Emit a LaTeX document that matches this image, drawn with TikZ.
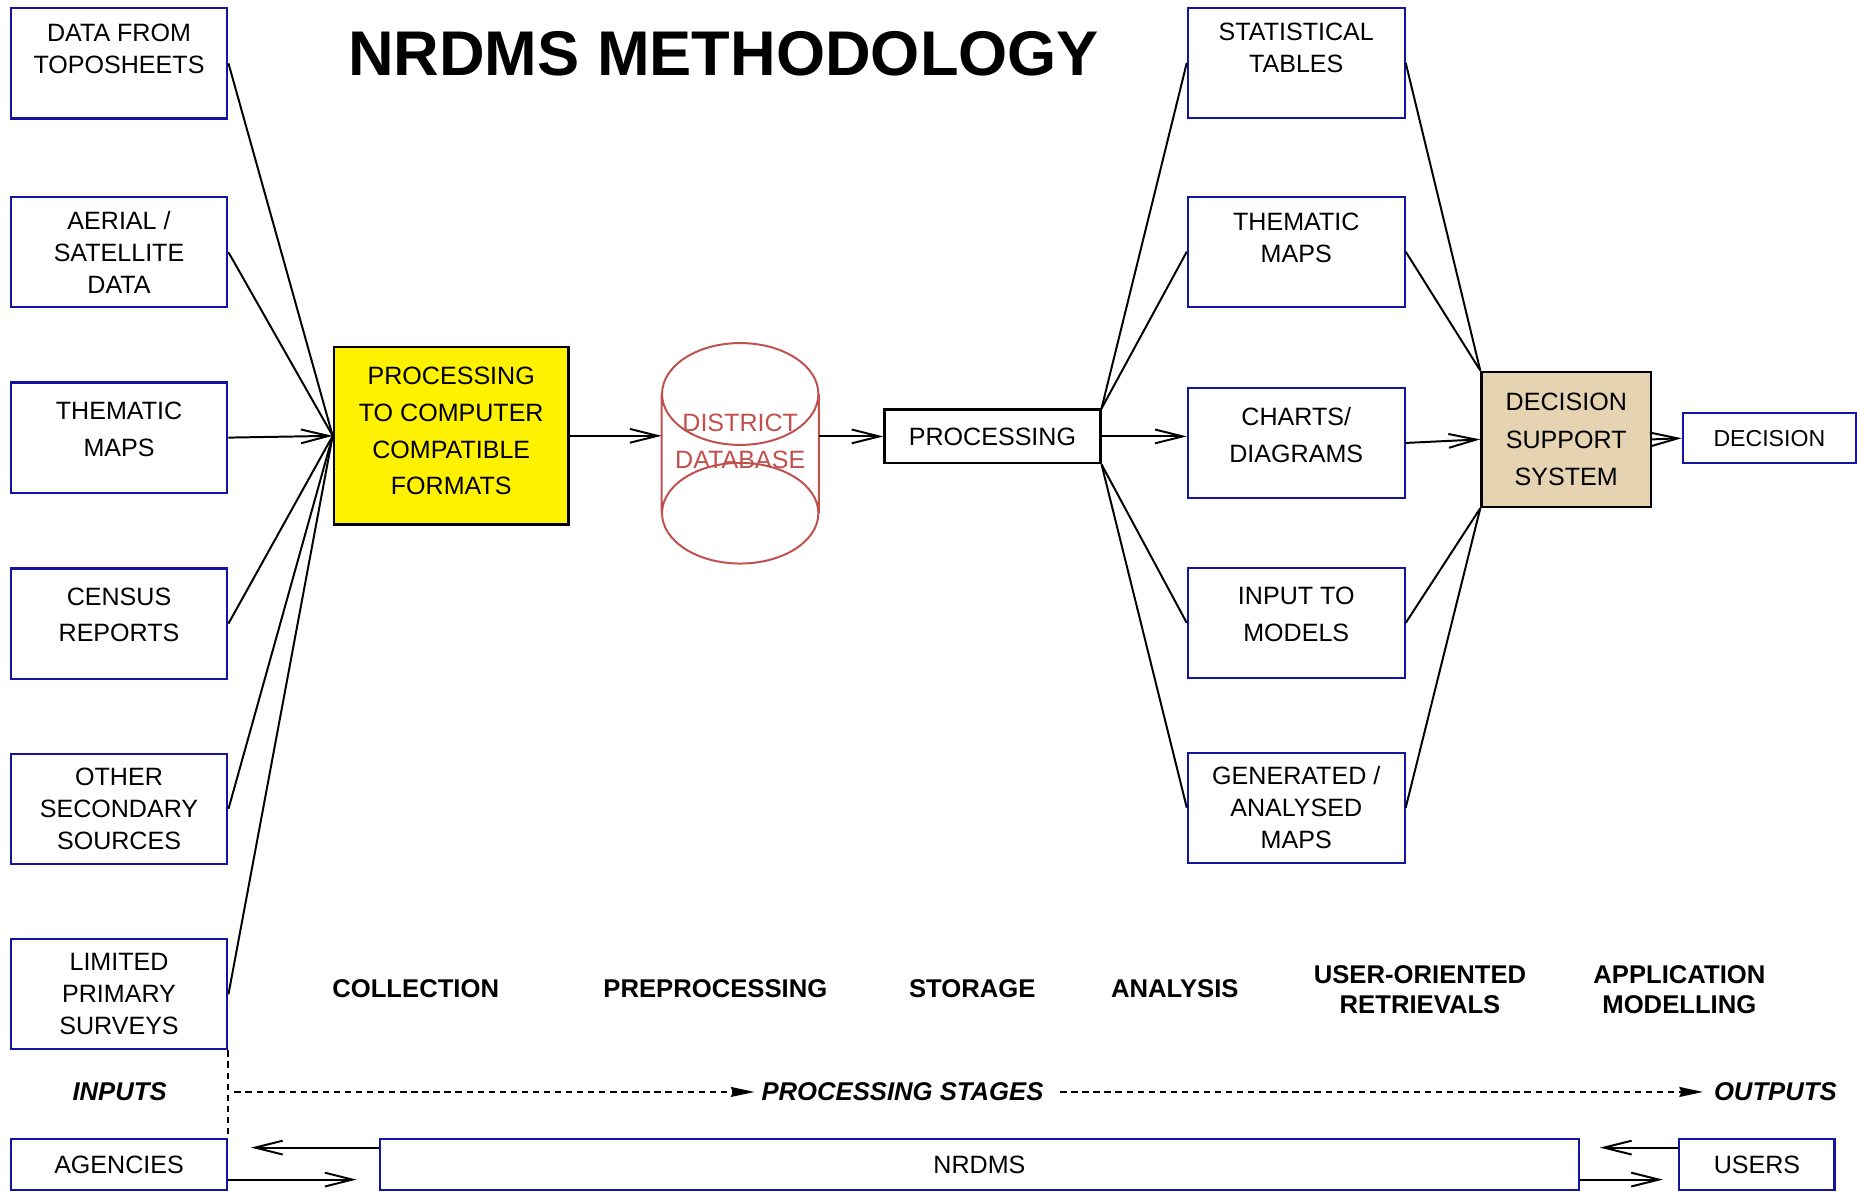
\documentclass[tikz,border=0pt]{standalone}
\usepackage{fontspec}
\setmainfont{Liberation Sans}
\usepackage{xcolor}
\usepackage{tikz}
\usetikzlibrary{arrows.meta}
\usetikzlibrary{calc}
\definecolor{boxblue}{RGB}{20,20,160}
\definecolor{dbred}{RGB}{192,80,77}
\definecolor{dsstan}{RGB}{229,211,178}
\tikzstyle{source} = [draw=boxblue, line width=1.1pt,
	minimum width=109.8pt,
	minimum height=55.8pt,
	align=center]
\tikzstyle{tight} = [font=\fontsize{12.7}{16.2}\selectfont]
\tikzstyle{loose} = [font=\fontsize{12.7}{18.6}\selectfont]
\tikzstyle{strip} = [draw=boxblue, line width=1.1pt,
	minimum height=25.8pt,
	font=\fontsize{12.7}{15}\selectfont]
\tikzstyle{stage} = [align=center, font=\fontsize{13}{15}\bfseries\selectfont]
\tikzstyle{phase} = [font=\fontsize{13}{15}\bfseries\itshape\selectfont]
\tikzstyle{link} = [line width=1pt]
\tikzstyle{arrow} = [-{Straight Barb[length=14pt, width=7pt]}, line width=1pt]
\tikzstyle{dashline} = [line width=1pt, dash pattern=on 3.2pt off 2.4pt]
\tikzstyle{flow} = [dashline, -{Stealth[length=12pt, width=5pt, inset=1pt]}]
\tikzstyle{dbnode} = [minimum width=79.2pt,
	minimum height=60pt,
	inner sep=0pt, align=center, text=dbred,
	font=\fontsize{12.7}{18.6}\selectfont]
\tikzstyle{dbline} = [draw=dbred, line width=1pt]
\newcommand{\drawdb}[2]{\node[dbnode, text depth=12.6pt] (#1) at #2 {DISTRICT\\DATABASE};
	\draw[dbline] (#1.north west) -- (#1.south west)
	(#1.north east) -- (#1.south east)
	(#1.north) ellipse [x radius=39.6pt, y radius=25.8pt]
	(#1.south) ellipse [x radius=39.6pt, y radius=25.5pt]}

\begin{document}
\begin{tikzpicture}[x=0.6pt, y=-0.6pt]
	\useasboundingbox (0,0) rectangle (1568,1006);
	\node[font=\fontsize{32}{38}\bfseries\selectfont] (title) at (611,45) {NRDMS METHODOLOGY};
	
	% inputs
	\node (topo) [source, tight, text depth=14.4pt] at (100.5,53.5) {DATA FROM\\TOPOSHEETS};
	\node (aerial) [source, tight] at (100.5,213) {AERIAL /\\SATELLITE\\DATA};
	\node (tmaps) [source, loose, text depth=8.4pt] at (100.5,369.5) {THEMATIC\\MAPS};
	\node (census) [source, loose, text depth=9pt] at (100.5,526.5) {CENSUS\\REPORTS};
	\node (other) [source, tight] at (100.5,683) {OTHER\\SECONDARY\\SOURCES};
	\node (survey) [source, tight] at (100.5,839.5) {LIMITED\\PRIMARY\\SURVEYS};
	
	\node (ccf) [draw, line width=1.3pt, fill=yellow,
		minimum width=118.8pt, minimum height=90pt,
		align=center, loose, text depth=4.8pt] at (381,368) {PROCESSING\\TO COMPUTER\\COMPATIBLE\\FORMATS};
	
	\draw [link] (topo.east) -- (ccf.west);
	\draw [link] (aerial.east) -- (ccf.west);
	\draw [arrow] (tmaps.east) -- (ccf.west);
	\draw [link] (census.east) -- (ccf.west);
	\draw [link] (other.east) -- (ccf.west);
	\draw [link] (survey.east) -- (ccf.west);
	
	% storage
	\drawdb{db}{(625,383)};
	\draw [arrow] (ccf.east) -- (ccf.east -| db.west);
	\node (proc) [draw, line width=1.3pt, minimum width=109.2pt, minimum height=27pt,
		font=\fontsize{12.7}{15}\selectfont] at (838,368.5) {PROCESSING};
	\draw [arrow] (db.east |- proc.west) -- (proc.west);
	
	% outputs
	\node (tables) [source, tight, text depth=15pt] at (1094.5,53) {STATISTICAL\\TABLES};
	\node (maps) [source, tight, text depth=14.4pt] at (1094.5,212.5) {THEMATIC\\MAPS};
	\node (charts) [source, loose, text depth=7.8pt] at (1094.5,374) {CHARTS/\\DIAGRAMS};
	\node (models) [source, loose, text depth=9pt] at (1094.5,526) {INPUT TO\\MODELS};
	\node (genmaps) [source, tight] at (1094.5,682) {GENERATED /\\ANALYSED\\MAPS};
	
	\draw [link] (proc.north east) -- (tables.west);
	\draw [link] (proc.north east) -- (maps.west);
	\draw [arrow] (proc.east) -- (proc.east -| charts.west);
	\draw [link] (proc.south east) -- (models.west);
	\draw [link] (proc.south east) -- (genmaps.west);
	
	\node (dss) [draw, line width=1.3pt, fill=dsstan,
		minimum width=85.8pt, minimum height=68.4pt, align=center,
		font=\fontsize{12.7}{18.9}\selectfont] at (1322.5,371) {DECISION\\SUPPORT\\SYSTEM};
	\draw [link] (tables.east) -- (dss.north west);
	\draw [link] (maps.east) -- (dss.north west);
	\draw [arrow] (charts.east) -- (dss.west);
	\draw [link] (models.east) -- (dss.south west);
	\draw [link] (genmaps.east) -- (dss.south west);
	
	\node (decision) [draw=boxblue, line width=1.1pt, minimum width=87.6pt, minimum height=25.2pt,
		font=\fontsize{11.7}{14}\selectfont] at (1494,370) {DECISION};
	\draw [arrow] (dss.east) -- (decision.west);
	
	% stages
	\node (collect) [stage] at (351,835) {COLLECTION};
	\node (prep) [stage] at (604,835) {PREPROCESSING};
	\node (store) [stage] at (821,835) {STORAGE};
	\node (analyse) [stage] at (992,835) {ANALYSIS};
	\node (retrieve) [stage] at (1199,835.5) {USER-ORIENTED\\RETRIEVALS};
	\node (model) [stage] at (1418,835.5) {APPLICATION\\MODELLING};
	
	\node (inputs) [phase] at (101,922) {INPUTS};
	\node (stages) [phase] at (762,922) {PROCESSING STAGES};
	\node (outputs) [phase] at (1499,922) {OUTPUTS};
	
	% bottom strip
	\node (agencies) [strip, minimum width=109.8pt] at (100.5,983.5) {AGENCIES};
	\node (nrdms) [strip, minimum width=607.2pt] at (827,983.5) {NRDMS};
	\node (users) [strip, minimum width=78.6pt] at (1483.5,983.5) {USERS};
	
	\draw [dashline] (survey.south east) -- (agencies.north east);
	\draw [flow, shorten <=3pt] (inputs.east -| survey.east) -- (stages.west);
	\draw [flow, shorten <=5pt, shorten >=2pt] (stages.east) -- (outputs.west);
	
	\draw [arrow, shorten >=11.4pt] ([yshift=8.7pt]nrdms.west) -- ([yshift=8.7pt]agencies.east);
	\draw [arrow, shorten >=11.4pt] ([yshift=-7.5pt]agencies.east) -- ([yshift=-7.5pt]nrdms.west);
	\draw [arrow, shorten >=10.2pt] ([yshift=8.7pt]users.west) -- ([yshift=8.7pt]nrdms.east);
	\draw [arrow, shorten >=7.8pt] ([yshift=-7.5pt]nrdms.east) -- ([yshift=-7.5pt]users.west);
\end{tikzpicture}
\end{document}
